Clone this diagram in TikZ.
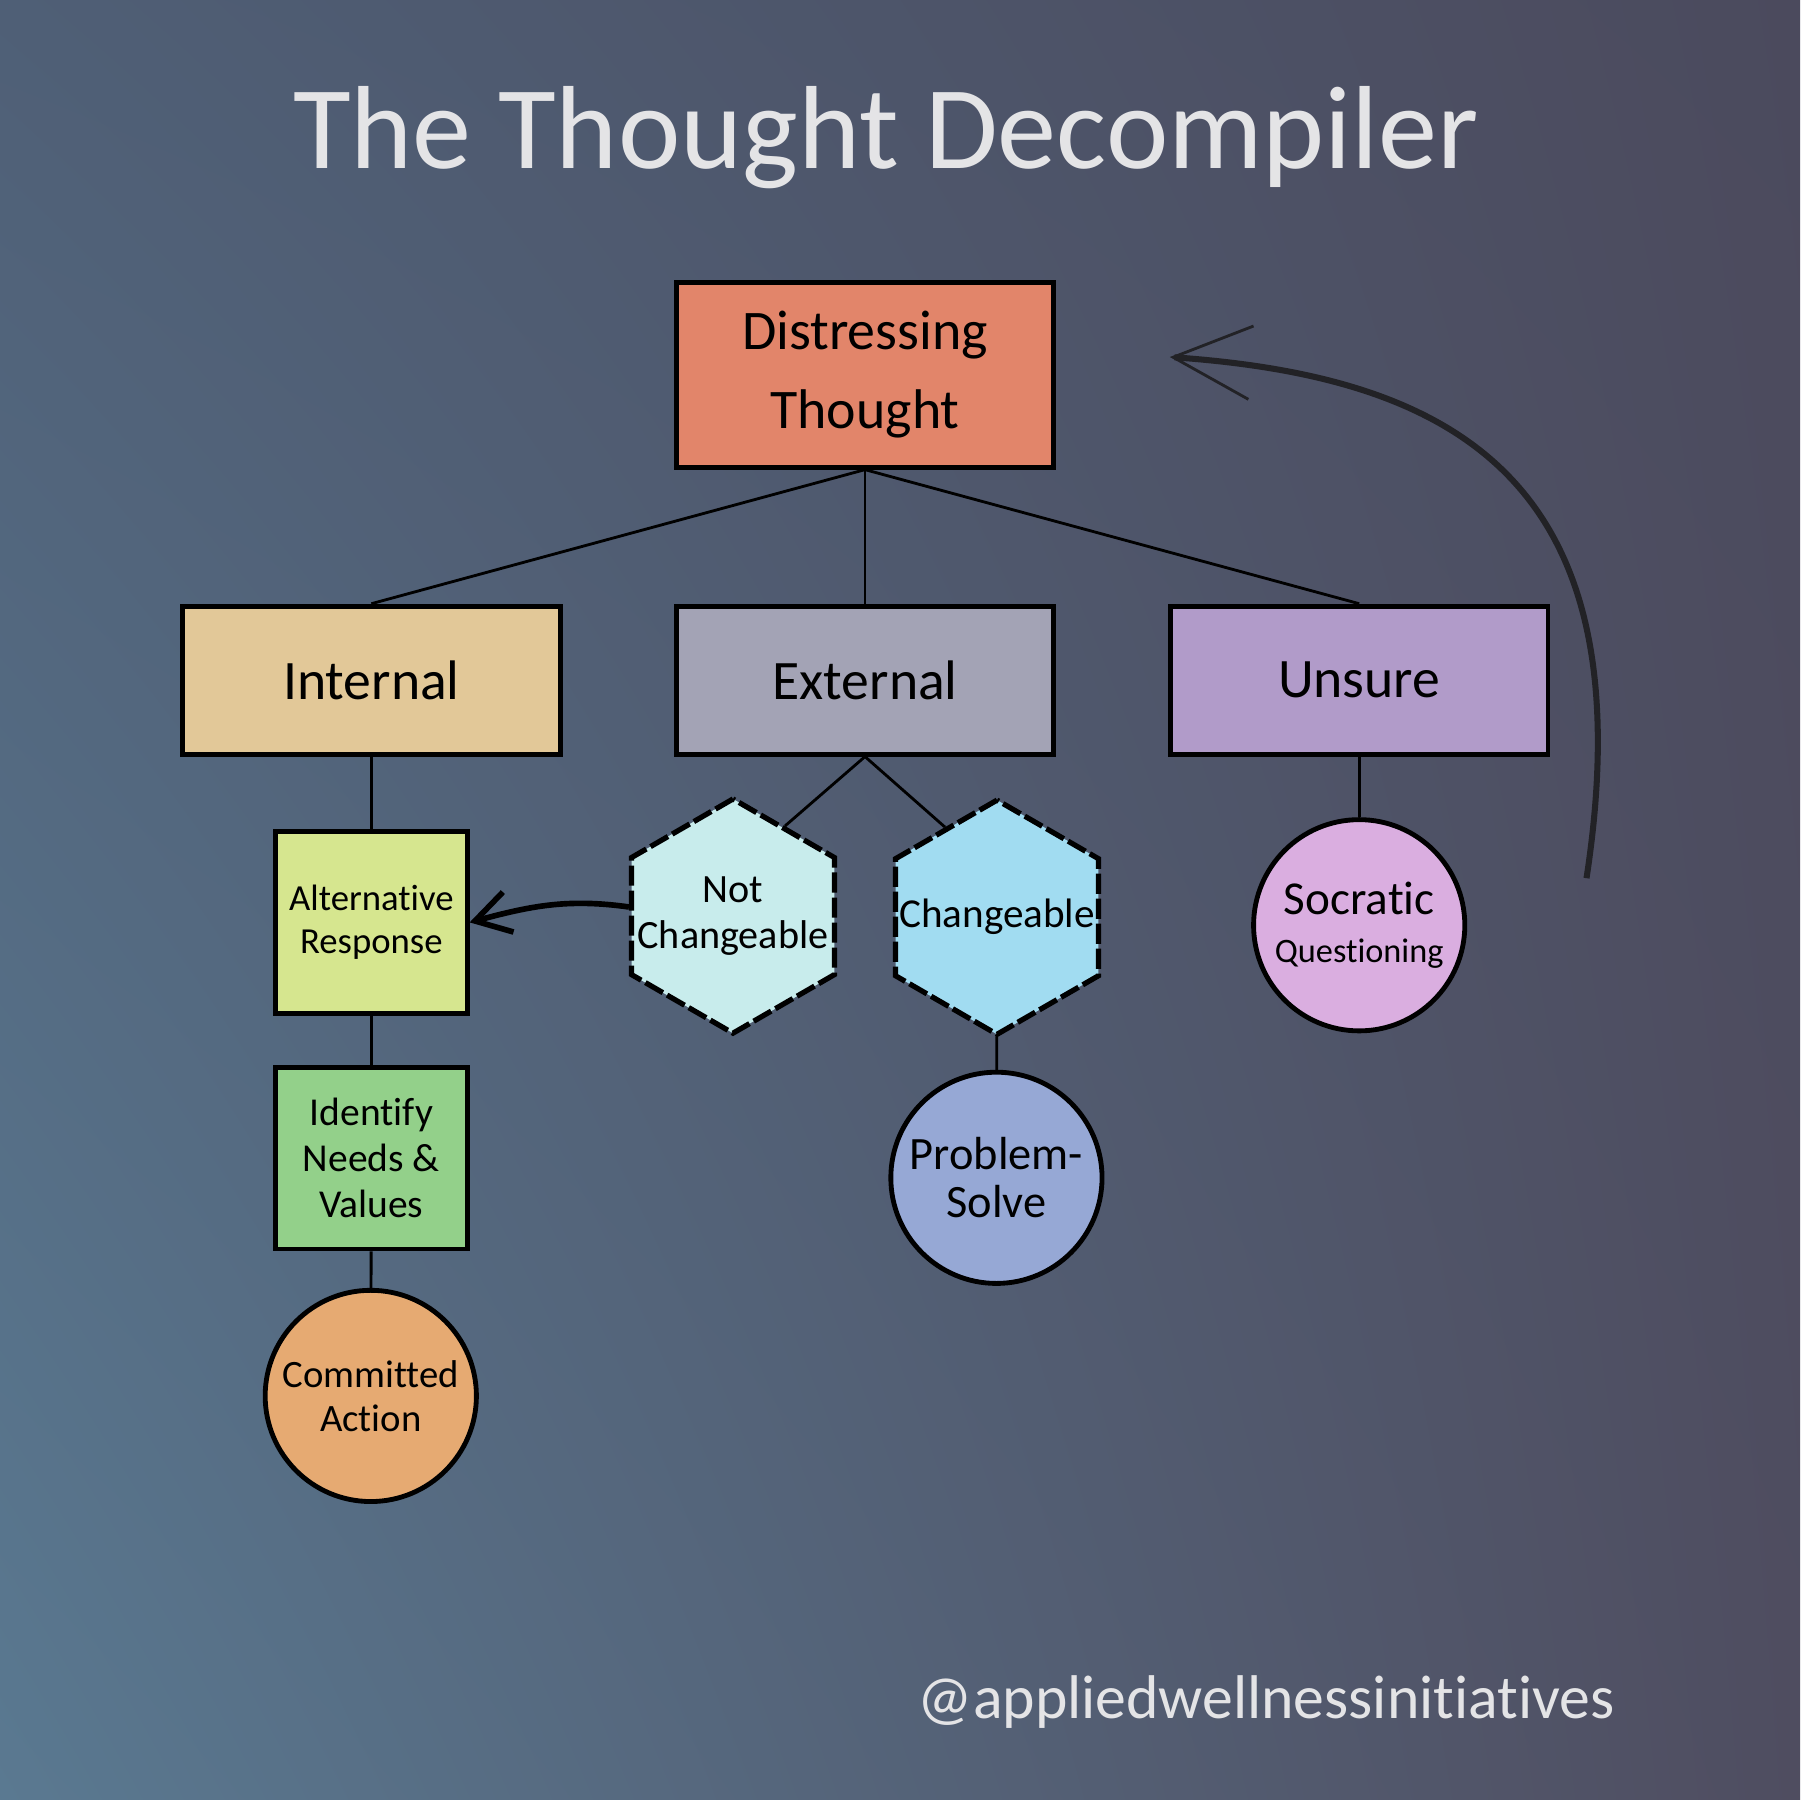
\documentclass[tikz,border=0pt]{standalone}
\usepackage{fontspec}
\setmainfont{Carlito}[Ligatures=CommonOff]
\usepackage{tikz}
\usetikzlibrary{shapes.geometric, arrows.meta, positioning, calc, shadings}

% background and text colours
\definecolor{bgTL}{HTML}{4F5F76}
\definecolor{bgTR}{HTML}{4B4A5D}
\definecolor{bgBL}{HTML}{5A7991}
\definecolor{bgBR}{HTML}{4F4D60}
\definecolor{titlegray}{HTML}{E4E4E6}
\definecolor{arrowdark}{HTML}{222226}
% node fills
\definecolor{cDistress}{HTML}{E2856A}
\definecolor{cInternal}{HTML}{E2C898}
\definecolor{cExternal}{HTML}{A3A3B5}
\definecolor{cUnsure}{HTML}{B19BC9}
\definecolor{cAlt}{HTML}{D6E68F}
\definecolor{cNeeds}{HTML}{93D08A}
\definecolor{cCommit}{HTML}{E6AA72}
\definecolor{cNotChg}{HTML}{C8ECEC}
\definecolor{cChg}{HTML}{A1DCF1}
\definecolor{cProblem}{HTML}{96A8D5}
\definecolor{cSocratic}{HTML}{DAAEE0}

\begin{document}
\begin{tikzpicture}[
    catbox/.style={draw=black, line width=1.2pt, minimum width=3.29cm, minimum height=1.29cm, font=\fontsize{13.8}{19}\selectfont},
    stepbox/.style={draw=black, line width=1.2pt, minimum width=1.67cm, minimum height=1.58cm, align=center, inner sep=1pt},
    hexnode/.style={draw=black, line width=1.3pt, dash pattern=on 5pt off 1.2pt, regular polygon, regular polygon sides=6, shape border rotate=30, minimum size=2.04cm, inner sep=0pt},
    endcircle/.style={draw=black, line width=1.2pt, circle, minimum size=1.84cm, inner sep=0pt, align=center},
    link/.style={draw=black, line width=0.7pt},
]

% Background
\shade[upper left=bgTL, upper right=bgTR, lower left=bgBL, lower right=bgBR] (0,0) rectangle (15.68,-15.68);
\useasboundingbox (0,0) rectangle (15.68,-15.68);

% Title and handle
\node[font=\fontsize{29.3}{34}\selectfont, text=titlegray] (title) at (7.72,-1.2) {The Thought Decompiler};
\node[font=\fontsize{15.3}{18}\selectfont, text=titlegray] (handle) at (11.03,-14.83) {@appliedwellnessinitiatives};

% Root thought
\node[catbox, fill=cDistress, minimum height=1.61cm, align=center, font=\fontsize{13.85}{19.5}\selectfont] (dist) at (7.535,-3.265) {Distressing\\Thought};

% Categories
\foreach \nm/\x/\col/\txt in {internal/3.235/cInternal/Internal, external/7.535/cExternal/External, unsure/11.84/cUnsure/Unsure} {
    \node[catbox, fill=\col] (\nm) at (\x,-5.925) {\txt};
    \draw[link] (dist.south) -- (\nm.north);
}

% Internal branch
\node[stepbox, fill=cAlt, font=\fontsize{9.1}{10.8}\selectfont] (altresp) at (3.235,-8.035) {Alternative\\Response};
\node[stepbox, fill=cNeeds, font=\fontsize{9.8}{11.4}\selectfont] (needs) at (3.235,-10.09) {Identify\\Needs \&\\Values};
\node[endcircle, fill=cCommit, font=\fontsize{9.6}{10.8}\selectfont] (commit) at (3.23,-12.16) {Committed\\Action};
\draw[link] (internal) -- (altresp);
\draw[link] (altresp) -- (needs);
\draw[link] (needs) -- (commit);

% External branch
\node[hexnode, fill=cNotChg, label={[font=\fontsize{9.95}{11.5}\selectfont, align=center]center:Not\\Changeable}] (notchg) at (6.385,-7.98) {};
\node[hexnode, fill=cChg, label={[font=\fontsize{10.2}{11.5}\selectfont]center:Changeable}] (chg) at (8.685,-7.99) {};
\node[endcircle, fill=cProblem, font=\fontsize{11.5}{12}\selectfont] (problem) at (8.68,-10.26) {Problem-\\Solve};
\draw[link] (external.south) -- (notchg.60);
\draw[link] (external.south) -- (chg.120);
\draw[link] (chg) -- (problem);

% Unsure branch
\node[endcircle, fill=cSocratic] (socratic) at (11.84,-8.06) {{\fontsize{11.7}{12}\selectfont Socratic}\\{\fontsize{8.5}{11}\selectfont Questioning}};
\draw[link] (unsure) -- (socratic);

% Arrows
\draw[line width=1.4pt, -{Straight Barb[length=3mm, width=3.6mm]}] (notchg.175) to[out=172, in=15] (altresp.east);
\coordinate (loopfrom) at (13.82,-7.65);
\coordinate (loopto) at (10.19,-3.11);
\draw[line width=1.5pt, draw=arrowdark, -{Straight Barb[length=6.8mm, width=6.4mm, line width=0.7pt]}] (loopfrom) .. controls (14.35,-4.2) and (12.69,-3.285) .. (loopto);

\end{tikzpicture}
\end{document}
